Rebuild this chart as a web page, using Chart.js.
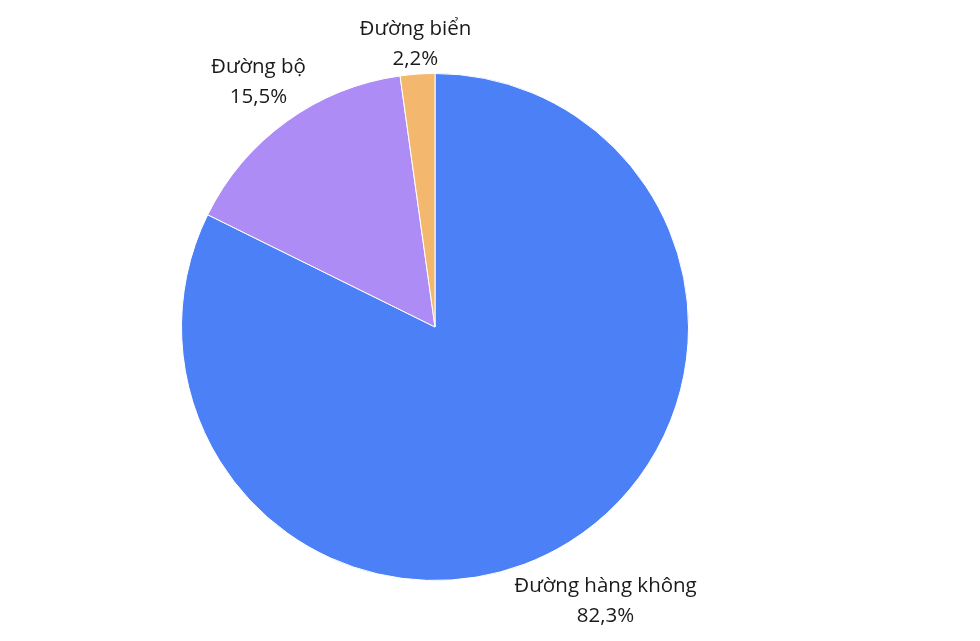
<!DOCTYPE html>
<html>
<head>
<meta charset="utf-8">
<script src="https://cdn.jsdelivr.net/npm/chart.js@4"></script>
<style>
  html, body { margin: 0; padding: 0; background: #fff; }
  #wrap { width: 980px; height: 641px; }
</style>
</head>
<body>
<div id="wrap"><canvas id="pie"></canvas></div>
<script>
// Du lieu
const labels = ["Đường hàng không", "Đường bộ", "Đường biển"];
const values = [82.3, 15.5, 2.2];
const colors = ["#4b80f6", "#ad8df5", "#f3b76d"];

// Nhan ben ngoai tung lat banh
const outsideLabels = {
  id: "outsideLabels",
  afterDraw(chart) {
    const ctx = chart.ctx;
    const meta = chart.getDatasetMeta(0);
    ctx.save();
    ctx.font = "20.5px 'Open Sans', 'Noto Sans', sans-serif";
    ctx.fillStyle = "#1a1a1a";
    ctx.textAlign = "center";
    ctx.textBaseline = "middle";
    const lineH = 30;
    meta.data.forEach((arc, i) => {
      const p = arc.getProps(["x", "y", "startAngle", "endAngle", "outerRadius"], true);
      const mid = (p.startAngle + p.endAngle) / 2;
      const dx = Math.cos(mid), dy = Math.sin(mid);
      const lines = [labels[i], values[i].toFixed(1).replace(".", ",") + "%"];
      const w = Math.max(...lines.map(t => ctx.measureText(t).width));
      const h = lineH * 2;
      const push = Math.abs(dx) * w / 2 + Math.abs(dy) * h / 2;
      const d = p.outerRadius + push - 4;
      const cx = p.x + dx * d;
      const cy = p.y + dy * d;
      ctx.fillText(lines[0], cx, cy - lineH / 2);
      ctx.fillText(lines[1], cx, cy + lineH / 2);
    });
    ctx.restore();
  }
};

new Chart(document.getElementById("pie"), {
  type: "pie",
  data: {
    labels: labels,
    datasets: [{
      data: values,
      backgroundColor: colors,
      borderColor: "#ffffff",
      borderWidth: 1
    }]
  },
  options: {
    responsive: true,
    maintainAspectRatio: false,
    animation: false,
    layout: { padding: { left: 181, right: 291, top: 73, bottom: 60 } },
    plugins: {
      legend: { display: false },
      tooltip: { enabled: false }
    }
  },
  plugins: [outsideLabels]
});
</script>
</body>
</html>
